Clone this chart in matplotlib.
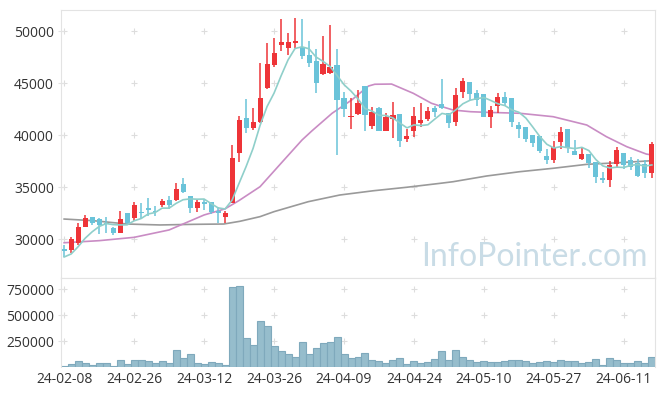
import numpy as np
import pandas as pd
import matplotlib
matplotlib.use('Agg')
import matplotlib.pyplot as plt

plt.rcParams['font.family'] = ['Open Sans', 'DejaVu Sans']

# daily candles (index = trading day)
opens = [29000, 28940, 29640, 31180, 32090, 31890, 31500, 31030, 30610, 32500,
         31990, 32570, 32950, 32650, 33270, 33750, 33750, 35290, 34130, 33010,
         33560, 33530, 32720, 32090, 33430, 38240, 41600, 40640, 41220, 44550,
         46730, 48680, 48340, 48875, 48430, 47690, 47110, 45865, 45990, 46730,
         43590, 41760, 42020, 44710, 40865, 42625, 40410, 41540, 42020, 39590,
         40410, 41180, 41510, 42625, 42980, 42090, 41280, 44160, 45070, 44010,
         43910, 41700, 42790, 43625, 43530, 40960, 40800, 40000, 39900, 37980,
         37600, 39360, 40550, 38490, 37690, 38170, 37430, 35840, 35670, 37210,
         38240, 37600, 37280, 37210, 36320]
highs = [29400, 30160, 31570, 32340, 32150, 31990, 32090, 31180, 32690, 32500,
         33560, 33430, 33910, 33170, 33820, 34160, 35410, 35830, 34130, 33820,
         33820, 33530, 33110, 32720, 39040, 41830, 43430, 42630, 46890, 48820,
         49300, 51120, 49780, 51220, 51120, 49070, 48240, 49520, 50580, 48240,
         44130, 43530, 44330, 44710, 42660, 42700, 42090, 43140, 42020, 40550,
         42720, 43050, 42720, 42820, 45360, 42090, 44490, 45450, 45070, 44330,
         43910, 42790, 44070, 44160, 43530, 41280, 40800, 40000, 39900, 38630,
         39450, 40800, 40550, 39520, 38820, 38170, 37430, 36470, 37530, 38880,
         38240, 37910, 37660, 37600, 39360]
lows = [28300, 28620, 29420, 31120, 31350, 30480, 30550, 30380, 30550, 31350,
        31730, 31890, 32210, 32210, 33110, 32860, 33680, 34390, 32530, 32630,
        32790, 32400, 31570, 31510, 33430, 37430, 40160, 40480, 41150, 44450,
        46570, 48110, 47690, 48340, 47280, 46570, 44010, 45800, 45900, 38080,
        41700, 40550, 41920, 40410, 40550, 40350, 40410, 39680, 38880, 39360,
        39780, 40800, 41380, 41700, 42500, 40640, 40870, 43530, 43370, 42790,
        41700, 40640, 42140, 42790, 40800, 39740, 39360, 38880, 38300, 37210,
        37280, 38630, 38300, 38080, 37600, 36800, 35410, 35360, 35030, 36950,
        36700, 36640, 35990, 35840, 35840]
closes = [28800, 29970, 31120, 32050, 31510, 31350, 31400, 30610, 31890, 31570,
          33270, 32500, 32790, 32600, 33680, 33270, 34780, 34550, 33010, 33530,
          33340, 32625, 32470, 32470, 37760, 41440, 40640, 41220, 43530, 46830,
          47910, 48910, 48910, 49040, 47630, 46950, 44970, 46830, 46570, 43370,
          42470, 41860, 43100, 41920, 42180, 40410, 41760, 41920, 39450, 39900,
          41830, 41440, 42310, 42240, 42570, 41180, 43850, 45190, 43910, 43370,
          41700, 42400, 43620, 43050, 41280, 40580, 39590, 39260, 38490, 37600,
          38820, 40260, 38720, 38080, 38170, 37280, 35930, 35670, 37115, 38560,
          37115, 36950, 36090, 36320, 39135]
volumes = [13000, 29000, 61000, 38000, 19000, 38000, 38000, 13000, 67000, 32000,
           67000, 67000, 61000, 42000, 61000, 42000, 163000, 87000, 125000, 38000,
           32000, 51000, 42000, 22000, 769000, 782000, 279000, 212000, 442000, 394000,
           202000, 157000, 125000, 96000, 240000, 125000, 183000, 231000, 240000, 288000,
           125000, 87000, 96000, 135000, 67000, 58000, 35000, 67000, 87000, 26000,
           58000, 35000, 48000, 77000, 154000, 67000, 163000, 96000, 67000, 48000,
           58000, 48000, 48000, 58000, 67000, 67000, 58000, 38000, 48000, 58000,
           48000, 67000, 58000, 58000, 38000, 48000, 77000, 19000, 87000, 67000,
           38000, 38000, 58000, 38000, 96000]

# first four 5-day average values (need days before the window)
ma5_head = [28270, 28560, 29260, 30070]

# 20-day and long average
ma20_x = [0, 5, 10, 15, 20, 23, 25, 28, 31, 34, 35.4, 38.3, 41.1, 43.5, 44.4, 46.8,
          49.9, 52.5, 53.7, 55.6, 58.1, 60.4, 65.1, 69.9, 74.7, 77.5, 80.4, 83.2, 84]
ma20_y = [29640, 29840, 30160, 30870, 32310, 32900, 33700, 35030, 37280, 39520, 40390,
          42090, 43370, 44710, 44880, 44900, 44010, 43050, 42790, 42400, 42240, 42180,
          42090, 41760, 40960, 39840, 38880, 38170, 38080]
ma_long_x = [0, 4.2, 9, 13.7, 18.5, 22.8, 25.1, 28, 30, 34.9, 39.4, 44.2, 48.9, 53.7,
             55.6, 60.4, 65.1, 69.9, 74.7, 79.4, 84]
ma_long_y = [31920, 31760, 31440, 31350, 31410, 31440, 31700, 32150, 32630, 33590, 34230,
             34640, 34970, 35350, 35510, 36060, 36470, 36800, 37180, 37340, 37530]

tick_labels = ['24-02-08', '24-02-26', '24-03-12', '24-03-26', '24-04-09',
               '24-04-24', '24-05-10', '24-05-27', '24-06-11']

df = pd.DataFrame({'o': opens, 'h': highs, 'l': lows, 'c': closes, 'v': volumes})
x = np.arange(len(df))
ma5 = df.c.rolling(5).mean().values
ma5[:4] = ma5_head

up = df.c >= df.o
red = '#EE3438'
blue = '#6AC3D9'
border = '#E3E3E3'

fig = plt.figure(figsize=(6.65, 3.96), dpi=100)
ax = fig.add_axes([61/665, 1-278/396, 594/665, 268/396])
axv = fig.add_axes([61/665, 1-367/396, 594/665, 89/396], sharex=ax)

# candles
ax.vlines(x[up], df.l[up], df.h[up], color=red, lw=1.1, zorder=3)
ax.vlines(x[~up], df.l[~up], df.h[~up], color=blue, lw=1.1, zorder=3)
body_lo = np.minimum(df.o, df.c)
body_h = np.maximum(np.abs(df.c - df.o), 70)
ax.bar(x[up], body_h[up], bottom=body_lo[up], width=0.72, color=red, zorder=4)
ax.bar(x[~up], body_h[~up], bottom=body_lo[~up], width=0.72, color=blue, zorder=4)

# moving averages
ax.plot(ma_long_x, ma_long_y, color='#9A9A9A', lw=1.2, zorder=2)
ax.plot(ma20_x, ma20_y, color='#C98CC4', lw=1.2, zorder=2)
ax.plot(x, ma5, color='#8FCFCA', lw=1.2, zorder=5)

ax.text(0.988, 0.045, 'InfoPointer.com', transform=ax.transAxes, ha='right',
        va='baseline', fontsize=23, color='#C9DCE6', zorder=1, family='Lato')

ax.set_ylim(26250, 52020)
ax.set_xlim(-0.45, 84.45)
ax.set_yticks([30000, 35000, 40000, 45000, 50000])

# volume
axv.bar(x, df.v, width=1.0, color='#96BDCC', edgecolor='#7FA9BC', lw=0.8)
axv.set_ylim(0, 858000)
axv.set_yticks([250000, 500000, 750000])
axv.set_xticks(np.arange(0, 90, 10))
axv.set_xticklabels(tick_labels)

# small "+" marks where grid lines would cross
gx = np.arange(0, 90, 10)
for a, yt in ((ax, [30000, 35000, 40000, 45000, 50000]), (axv, [250000, 500000, 750000])):
    gxx, gyy = np.meshgrid(gx, yt)
    a.scatter(gxx.ravel(), gyy.ravel(), marker='+', s=14, color='#DDDDDD', lw=0.8, zorder=0)

for a in (ax, axv):
    for s in a.spines.values():
        s.set_color(border)
    a.tick_params(axis='y', length=4, direction='inout', color=border, labelsize=10,
                  labelcolor='#333333', pad=3)
    a.tick_params(axis='x', length=0, labelsize=10, labelcolor='#333333')
axv.spines['bottom'].set_visible(False)
plt.setp(ax.get_xticklabels(), visible=False)

fig.savefig('out.png', dpi=100)
